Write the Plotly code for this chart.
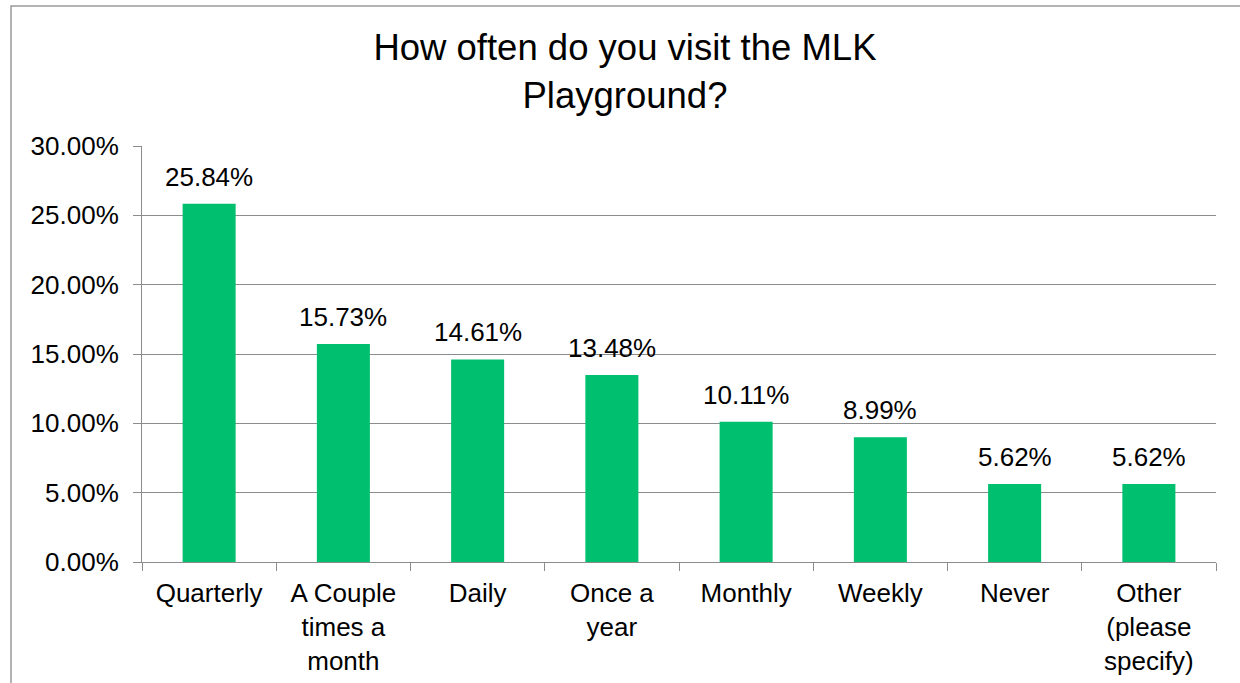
import plotly.graph_objects as go

categories = ["Quarterly", "A Couple<br>times a<br>month", "Daily", "Once a<br>year",
              "Monthly", "Weekly", "Never", "Other<br>(please<br>specify)"]
values = [25.84, 15.73, 14.61, 13.48, 10.11, 8.99, 5.62, 5.62]
labels = ["25.84%", "15.73%", "14.61%", "13.48%", "10.11%", "8.99%", "5.62%", "5.62%"]
tick_vals = [0, 5, 10, 15, 20, 25, 30]
tick_text = ["0.00%", "5.00%", "10.00%", "15.00%", "20.00%", "25.00%", "30.00%"]

FONT = "Liberation Sans, Arial, sans-serif"
GRID = "#8c8c8c"

fig = go.Figure()
fig.add_trace(go.Bar(x=categories, y=values, marker=dict(color="#00BF6F", line=dict(width=0)),
                     hoverinfo="skip"))

for c, v, t in zip(categories, values, labels):
    fig.add_annotation(x=c, y=v, text=t, showarrow=False, yanchor="bottom",
                       yshift=10, font=dict(family=FONT, size=26, color="#000000"))

L, R, T, B = 142, 24, 146, 121
W, H = 1240, 683
pw, ph = W - L - R, H - T - B

# outer chart border
fig.add_shape(type="rect", xref="paper", yref="paper",
              x0=(11 - L) / pw, x1=(1260 - L) / pw,
              y0=(H - B - 720) / ph, y1=(H - B - 6) / ph,
              line=dict(color="#9a9a9a", width=1.5), layer="below")

fig.update_layout(
    width=W, height=H,
    margin=dict(l=L, r=R, t=T, b=B, autoexpand=False),
    paper_bgcolor="white", plot_bgcolor="white",
    bargap=0.605,
    showlegend=False,
    title=dict(text="How often do you visit the MLK<br>Playground?",
               xref="container", x=0.504, xanchor="center",
               yref="container", y=0.912, yanchor="top",
               font=dict(family=FONT, size=36.5, color="#000000")),
    font=dict(family=FONT, size=26, color="#000000"),
)
fig.update_xaxes(type="category", showline=True, linecolor=GRID, linewidth=1,
                 ticks="outside", tickson="boundaries", ticklen=8, tickcolor=GRID,
                 ticklabelstandoff=8,
                 tickfont=dict(family=FONT, size=26, color="#000000"),
                 showgrid=False, zeroline=False)
fig.update_yaxes(range=[0, 30], tickvals=tick_vals, ticktext=tick_text,
                 showline=True, linecolor=GRID, linewidth=1,
                 ticks="outside", ticklen=8, tickcolor=GRID, ticklabelstandoff=9,
                 showgrid=True, gridcolor=GRID, gridwidth=1, zeroline=False,
                 tickfont=dict(family=FONT, size=26, color="#000000"))

fig.write_html("out.html", config={"displayModeBar": False},
               post_script="document.body.style.margin='0';")
